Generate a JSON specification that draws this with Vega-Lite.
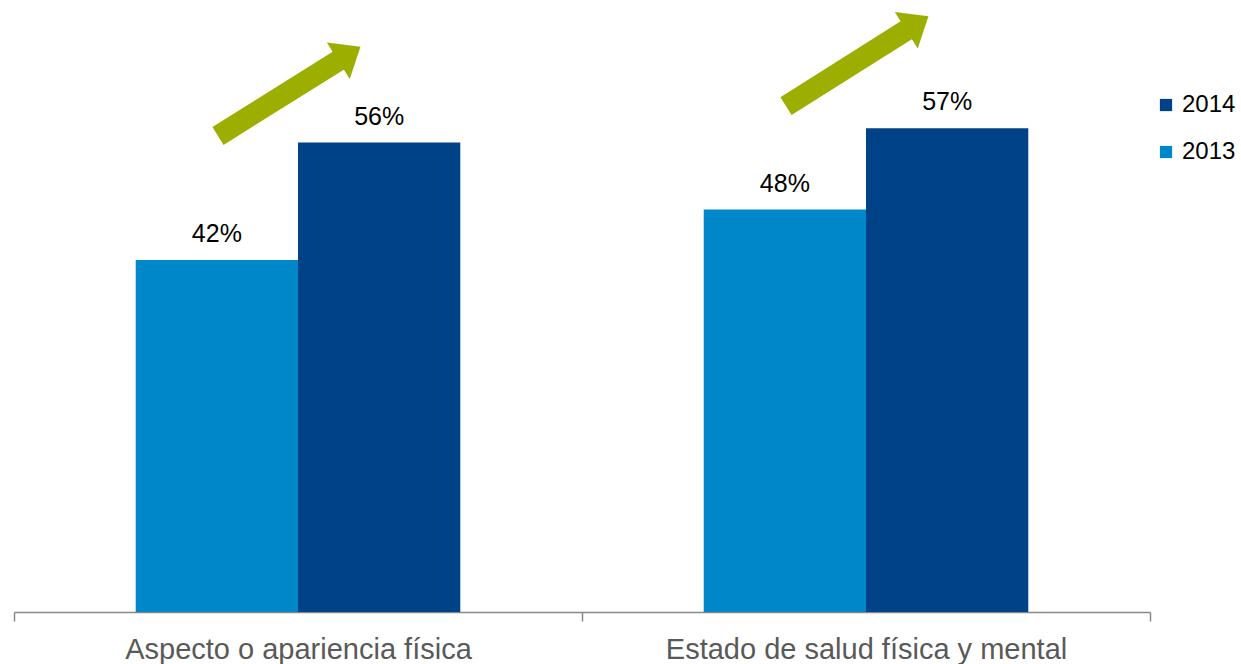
{
  "$schema": "https://vega.github.io/schema/vega-lite/v6.json",
  "width": 1136,
  "height": 612,
  "autosize": {"type": "none"},
  "padding": {"left": 14, "top": 0, "right": 91, "bottom": 52},
  "config": {"view": {"stroke": null}, "font": "Liberation Sans"},
  "layer": [
    {
      "data": {
        "values": [
          {"cat": "Aspecto o apariencia física", "year": "2013", "value": 42, "label": "42%"},
          {"cat": "Aspecto o apariencia física", "year": "2014", "value": 56, "label": "56%"},
          {"cat": "Estado de salud física y mental", "year": "2013", "value": 48, "label": "48%"},
          {"cat": "Estado de salud física y mental", "year": "2014", "value": 57.7, "label": "57%"}
        ]
      },
      "encoding": {
        "x": {
          "field": "cat",
          "type": "nominal",
          "scale": {"domain": ["Aspecto o apariencia física", "Estado de salud física y mental"], "paddingInner": 0, "paddingOuter": 0},
          "axis": {
            "title": null,
            "labelAngle": 0,
            "labelLimit": 0,
            "labelFont": "Liberation Sans",
            "labelFontSize": 29,
            "labelColor": "#595959",
            "labelPadding": 14,
            "labelBaseline": "top",
            "domainColor": "#888888",
            "domainWidth": 1.5,
            "tickColor": "#888888",
            "tickWidth": 1.5,
            "tickSize": 9,
            "tickBand": "extent",
            "grid": false
          }
        },
        "xOffset": {"field": "year", "type": "nominal", "scale": {"domain": ["2013", "2014"], "paddingInner": 0, "paddingOuter": 0.75}},
        "y": {"field": "value", "type": "quantitative", "scale": {"domain": [0, 73], "nice": false, "zero": true}, "axis": null}
      },
      "layer": [
        {
          "mark": {"type": "bar"},
          "encoding": {
            "color": {
              "field": "year",
              "type": "nominal",
              "scale": {"domain": ["2014", "2013"], "range": ["#004287", "#0087C9"]},
              "legend": {
                "title": null,
                "orient": "none",
                "legendX": 1140,
                "legendY": 93,
                "symbolType": "square",
                "symbolSize": 150,
                "symbolStrokeWidth": 0,
                "symbolOpacity": 1,
                "labelFont": "Liberation Sans",
                "labelFontSize": 24,
                "labelColor": "#000000",
                "labelOffset": 4,
                "rowPadding": 23,
                "padding": 0
              }
            }
          }
        },
        {
          "mark": {"type": "text", "dy": -18, "baseline": "alphabetic", "fontSize": 25, "font": "Liberation Sans", "color": "#000000"},
          "encoding": {"text": {"field": "label", "type": "nominal"}}
        }
      ]
    },
    {
      "data": {
        "values": [
          {"cat": "Aspecto o apariencia física", "y0": 56.78, "y1": 65.96},
          {"cat": "Estado de salud física y mental", "y0": 60.35, "y1": 69.6}
        ]
      },
      "layer": [
        {
          "mark": {"type": "rule", "strokeWidth": 21, "strokeCap": "butt", "color": "#9CAF00", "xOffset": -80, "x2Offset": 43},
          "encoding": {
            "x": {"field": "cat", "type": "nominal", "bandPosition": 0.5},
            "x2": {"field": "cat"},
            "y": {"field": "y0", "type": "quantitative"},
            "y2": {"field": "y1"}
          }
        },
        {
          "mark": {"type": "point", "shape": "M-1,0.15 L1,0.15 L0,-1.07 Z", "size": 1849, "filled": true, "opacity": 1, "strokeWidth": 0, "color": "#9CAF00", "angle": 57.7, "xOffset": 43},
          "encoding": {
            "x": {"field": "cat", "type": "nominal", "bandPosition": 0.5},
            "y": {"field": "y1", "type": "quantitative"}
          }
        }
      ]
    }
  ]
}
